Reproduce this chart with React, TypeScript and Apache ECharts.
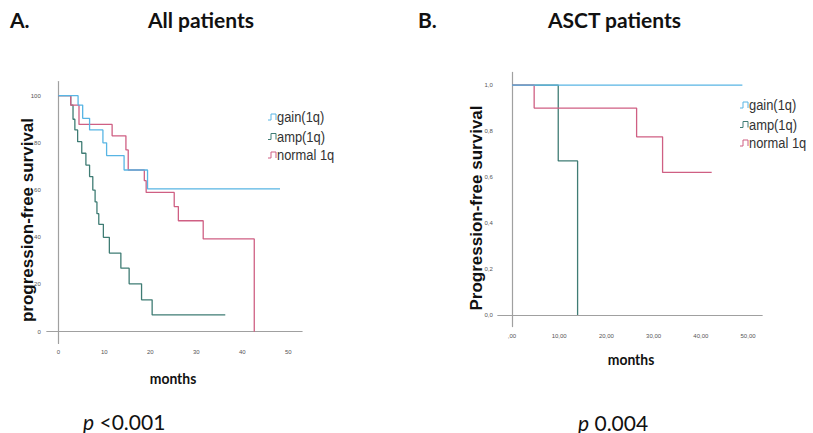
import React, { useEffect, useRef } from "react";
import * as echarts from "echarts";

// ---------- data ----------
const groupNames = ["gain(1q)", "amp(1q)", "normal 1q"];
const groupColors = ["#58b5e4", "#3f7c74", "#cf5f83"];

// A. All patients (months, PFS %)
const allGainMonths = [0, 4.3, 5.3, 6.8, 9.7, 10.5, 14.3, 19.4, 48.2];
const allGainPFS = [100, 96, 90.4, 85.5, 80, 74.6, 68.5, 60.5, 60.5];
const allAmpMonths = [0, 2.7, 3.2, 3.6, 4.2, 5.1, 6.0, 6.8, 7.5, 8.0, 8.4, 8.8, 9.8, 11.1, 13.6, 15.4, 18.1, 20.4, 36.3];
const allAmpPFS = [100, 96, 90, 85.5, 80.5, 75.6, 70.6, 65.7, 60, 55, 50, 45.5, 40, 33.3, 26.9, 20.3, 13.5, 7.1, 7.1];
const allNormalMonths = [0, 2.7, 4.5, 11.7, 14.7, 15.2, 18.7, 19.1, 25.2, 26.1, 31.5, 42.6];
const allNormalPFS = [100, 96, 87.8, 83, 77, 68.5, 64, 59, 53, 47, 39.3, 0];

// B. ASCT patients (months, PFS proportion)
const asctGainMonths = [0, 48.8];
const asctGainPFS = [1, 1];
const asctAmpMonths = [0, 9.8, 13.9];
const asctAmpPFS = [1, 0.67, 0];
const asctNormalMonths = [0, 4.7, 26.4, 31.9, 42.3];
const asctNormalPFS = [1, 0.9, 0.775, 0.62, 0.62];

const allYTicks = [0, 20, 40, 60, 80, 100];
const allXTicks = [0, 10, 20, 30, 40, 50];
const asctYTicks = [0, 0.2, 0.4, 0.6, 0.8, 1.0];
const asctXTicks = [0, 10, 20, 30, 40, 50];

const zip = (xs: number[], ys: number[]) => xs.map((x, i) => [x, ys[i]]);

export default function App() {
  const ref = useRef<HTMLDivElement>(null);

  useEffect(() => {
    if (!ref.current) return;
    const chart = echarts.init(ref.current, null, { renderer: "svg" });

    const axisLine = { show: true, lineStyle: { color: "#a0a0a0", width: 1.2 } };
    const tickLabel = { fontSize: 6, color: "#555", fontFamily: "Liberation Sans" };

    const lineSeries = (name: string, color: string, data: number[][], idx: number) => ({
      name,
      type: "line",
      step: "end",
      xAxisIndex: idx,
      yAxisIndex: idx,
      data,
      symbol: "none",
      lineStyle: { color, width: 1.3 },
      itemStyle: { color },
      silent: true,
    });

    const legendRows = (x: number, ys: number[]) =>
      groupNames.flatMap((n, i) => [
        {
          type: "polyline",
          x,
          y: ys[i],
          shape: { points: [[0, 3], [3, 3], [3, -3], [8, -3], [8, 3]] },
          style: { stroke: groupColors[i], lineWidth: 1, fill: null },
        },
        {
          type: "text",
          x: x + 9,
          y: ys[i],
          scaleX: 0.86,
          style: {
            text: n,
            fill: "#333",
            fontSize: 15,
            fontFamily: "Liberation Sans",
            textVerticalAlign: "middle",
          },
        },
      ]);

    const t = (text: string, x: number, y: number, opts: any = {}) => ({
      type: "text",
      x,
      y,
      rotation: opts.rotation || 0,
      scaleX: opts.scaleX || 1,
      style: {
        text,
        fill: "#111",
        fontSize: opts.size || 14,
        fontWeight: opts.weight || "normal",
        fontFamily: opts.family || "Lato",
        textAlign: opts.align || "left",
        textVerticalAlign: "middle",
        rich: opts.rich,
      },
    });

    chart.setOption({
      animation: false,
      grid: [
        { left: 46.8, top: 81.5, width: 255.3, height: 262 },
        { left: 497.8, top: 72.4, width: 264.4, height: 254.2 },
      ],
      xAxis: [
        {
          type: "value",
          gridIndex: 0,
          min: -2.5,
          max: 53,
          axisLine,
          axisTick: { show: false },
          splitLine: { show: false },
          axisLabel: { ...tickLabel, margin: 5, customValues: allXTicks },
        },
        {
          type: "value",
          gridIndex: 1,
          min: -3,
          max: 53,
          axisLine,
          axisTick: { show: false },
          splitLine: { show: false },
          axisLabel: {
            ...tickLabel,
            margin: 6,
            customValues: asctXTicks,
            formatter: (v: number) => (v === 0 ? ",00" : v + ",00"),
          },
        },
      ],
      yAxis: [
        {
          type: "value",
          gridIndex: 0,
          min: -5,
          max: 106,
          axisLine,
          axisTick: { show: false },
          splitLine: { show: false },
          axisLabel: { ...tickLabel, margin: 6, customValues: allYTicks },
        },
        {
          type: "value",
          gridIndex: 1,
          min: -0.05,
          max: 1.055,
          axisLine,
          axisTick: { show: false },
          splitLine: { show: false },
          axisLabel: {
            ...tickLabel,
            margin: 5,
            customValues: asctYTicks,
            formatter: (v: number) => v.toFixed(1).replace(".", ","),
          },
        },
      ],
      series: [
        lineSeries(groupNames[1], groupColors[1], zip(allAmpMonths, allAmpPFS), 0),
        lineSeries(groupNames[2], groupColors[2], zip(allNormalMonths, allNormalPFS), 0),
        lineSeries(groupNames[0], groupColors[0], zip(allGainMonths, allGainPFS), 0),
        lineSeries(groupNames[1], groupColors[1], zip(asctAmpMonths, asctAmpPFS), 1),
        lineSeries(groupNames[2], groupColors[2], zip(asctNormalMonths, asctNormalPFS), 1),
        lineSeries(groupNames[0], groupColors[0], zip(asctGainMonths, asctGainPFS), 1),
      ],
      graphic: [
        t("A.", 10, 19, { size: 21, weight: "bold" }),
        t("All patients", 148, 19, { size: 21, weight: "bold" }),
        t("B.", 418, 19, { size: 21, weight: "bold" }),
        t("ASCT patients", 548, 19, { size: 21, weight: "bold" }),
        t("progression-free survival", 27, 220, {
          size: 17,
          weight: "bold",
          family: "Liberation Sans",
          align: "center",
          rotation: Math.PI / 2,
        }),
        t("Progression-free survival", 476, 208, {
          size: 17,
          weight: "bold",
          family: "Liberation Sans",
          align: "center",
          rotation: Math.PI / 2,
        }),
        t("months", 173, 378, { size: 16, weight: "bold", align: "center", scaleX: 0.87 }),
        t("months", 631, 359, { size: 16, weight: "bold", align: "center", scaleX: 0.87 }),
        t("{i|p} <0.001", 83, 421, { size: 21, rich: { i: { fontStyle: "italic", fontSize: 21, fontFamily: "Lato", fill: "#111" } } }),
        t("{i|p} 0.004", 578, 422, { size: 21, rich: { i: { fontStyle: "italic", fontSize: 21, fontFamily: "Lato", fill: "#111" } } }),
        ...legendRows(268, [117, 136.5, 155]),
        ...legendRows(740, [105, 124.5, 143]),
      ],
    });

    return () => chart.dispose();
  }, []);

  return (
    <div
      ref={ref}
      style={{ position: "absolute", left: 0, top: 0, width: 813, height: 433, background: "#fff" }}
    />
  );
}
